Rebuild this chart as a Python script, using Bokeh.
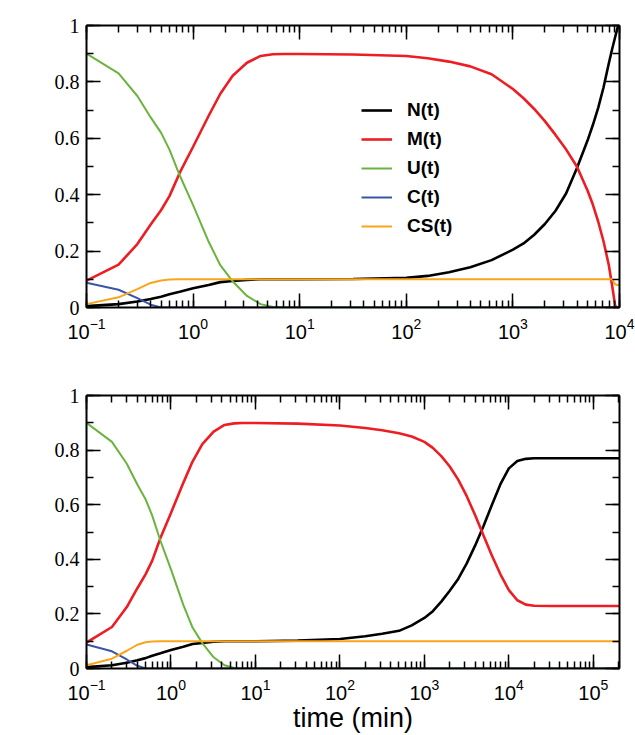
from bokeh.plotting import figure
from bokeh.layouts import column
from bokeh.models import (Range1d, LogAxis, LinearAxis, LogTicker, SingleIntervalTicker,
                          NumeralTickFormatter, Label, Legend, LegendItem)
from bokeh.embed import file_html
from bokeh.resources import INLINE

# ---------------- data ----------------
# shared early-time part (both panels)
t_early = [0.1, 0.2, 0.3, 0.4, 0.5, 0.6, 0.75, 1.0, 1.4, 1.8, 2.35, 3.2, 4.3, 5.6, 7.0]
N_early = [0.005, 0.012, 0.021, 0.030, 0.038, 0.047, 0.056, 0.068, 0.080, 0.090, 0.094, 0.098, 0.100, 0.100, 0.100]
M_early = [0.095, 0.152, 0.225, 0.294, 0.345, 0.395, 0.478, 0.570, 0.680, 0.758, 0.822, 0.868, 0.892, 0.898, 0.899]
U_early = [0.900, 0.830, 0.750, 0.674, 0.620, 0.560, 0.468, 0.363, 0.233, 0.150, 0.093, 0.041, 0.012, 0.002, 0.0]
C_early = [0.088, 0.063, 0.033, 0.010, 0.0, 0.0, 0.0, 0.0, 0.0, 0.0, 0.0, 0.0, 0.0, 0.0, 0.0]
CS_early = [0.012, 0.036, 0.065, 0.087, 0.096, 0.099, 0.100, 0.100, 0.100, 0.100, 0.100, 0.100, 0.100, 0.100, 0.100]

# panel (a) late part
t_late_a = [10, 31.62, 100, 158.5, 251.2, 398.1, 631.0, 1000, 1259, 1585, 1995, 2512, 3162, 3981,
            5012, 5623, 6310, 7079, 7943, 8511, 9120, 9550, 10000]
N_late_a = [0.100, 0.101, 0.105, 0.112, 0.125, 0.143, 0.168, 0.205, 0.227, 0.258, 0.296, 0.343, 0.405, 0.494,
            0.592, 0.647, 0.708, 0.780, 0.866, 0.915, 0.960, 0.990, 1.015]
M_late_a = [0.899, 0.897, 0.892, 0.884, 0.872, 0.855, 0.827, 0.775, 0.742, 0.704, 0.661, 0.612, 0.560, 0.500,
            0.415, 0.365, 0.305, 0.235, 0.150, 0.080, 0.005, 0.0, 0.0]
U_late_a = [0.0, 0.0, 0.0, 0.0, 0.0, 0.0, 0.0, 0.0, 0.0, 0.0, 0.0, 0.0, 0.0, 0.0,
            0.0, 0.0, 0.0, 0.0, 0.0, 0.0, 0.0, 0.0, 0.0]
C_late_a = [0.0, 0.0, 0.0, 0.0, 0.0, 0.0, 0.0, 0.0, 0.0, 0.0, 0.0, 0.0, 0.0, 0.0,
            0.0, 0.0, 0.0, 0.0, 0.0, 0.0, 0.0, 0.0, 0.0]
CS_late_a = [0.100, 0.100, 0.100, 0.100, 0.100, 0.100, 0.100, 0.100, 0.100, 0.100, 0.100, 0.100, 0.100, 0.100,
             0.100, 0.100, 0.100, 0.100, 0.100, 0.100, 0.082, 0.080, 0.080]

# panel (b) late part
t_late_b = [10, 31.62, 100, 199.5, 316.2, 501.2, 707.9, 1000, 1259, 1585, 1995, 2512, 3162, 3981,
            5012, 6310, 7943, 10000, 12589, 15849, 19953, 31623, 204000]
N_late_b = [0.100, 0.102, 0.108, 0.118, 0.127, 0.138, 0.158, 0.185, 0.210, 0.245, 0.285, 0.328, 0.384, 0.450,
            0.522, 0.600, 0.675, 0.733, 0.760, 0.768, 0.770, 0.770, 0.770]
M_late_b = [0.899, 0.897, 0.890, 0.881, 0.873, 0.862, 0.850, 0.830, 0.808, 0.778, 0.740, 0.692, 0.632, 0.562,
            0.487, 0.413, 0.345, 0.287, 0.250, 0.234, 0.230, 0.229, 0.229]
U_late_b = [0.0, 0.0, 0.0, 0.0, 0.0, 0.0, 0.0, 0.0, 0.0, 0.0, 0.0, 0.0, 0.0, 0.0,
            0.0, 0.0, 0.0, 0.0, 0.0, 0.0, 0.0, 0.0, 0.0]
C_late_b = [0.0, 0.0, 0.0, 0.0, 0.0, 0.0, 0.0, 0.0, 0.0, 0.0, 0.0, 0.0, 0.0, 0.0,
            0.0, 0.0, 0.0, 0.0, 0.0, 0.0, 0.0, 0.0, 0.0]
CS_late_b = [0.100, 0.100, 0.100, 0.100, 0.100, 0.100, 0.100, 0.100, 0.100, 0.100, 0.100, 0.100, 0.100, 0.100,
             0.100, 0.100, 0.100, 0.100, 0.100, 0.100, 0.100, 0.100, 0.100]

series_names = ["N(t)", "M(t)", "U(t)", "C(t)", "CS(t)"]
series_colors = ["#000000", "#ee1d23", "#6ab43e", "#3b55a5", "#f9a51b"]
series_widths = [2.6, 2.6, 2.0, 2.0, 2.0]
x_title = "time (min)"

panel_a = {
    "t": t_early + t_late_a,
    "y": [N_early + N_late_a, M_early + M_late_a, U_early + U_late_a,
          C_early + C_late_a, CS_early + CS_late_a],
}
panel_b = {
    "t": t_early + t_late_b,
    "y": [N_early + N_late_b, M_early + M_late_b, U_early + U_late_b,
          C_early + C_late_b, CS_early + CS_late_b],
}


def style_axis(ax, labels=True):
    ax.axis_line_width = 2
    ax.axis_line_color = "black"
    ax.major_tick_in = 14
    ax.major_tick_out = 0
    ax.minor_tick_in = 7
    ax.minor_tick_out = 0
    ax.major_tick_line_width = 1.5
    ax.minor_tick_line_width = 1.5
    ax.major_tick_line_color = "black"
    ax.minor_tick_line_color = "black"
    if not labels:
        ax.major_label_text_font_size = "1px"
        ax.major_label_text_color = None
        ax.major_label_standoff = 0


def make_panel(data, xmax, frame_h, top, bottom, tag, tag_y, xlabel=None, legend=False):
    p = figure(x_axis_type="log", x_range=Range1d(0.1, xmax), y_range=Range1d(0, 1),
               frame_width=533, frame_height=frame_h,
               min_border_left=86, min_border_right=16,
               min_border_top=top, min_border_bottom=bottom,
               output_backend="svg", toolbar_location=None)
    p.grid.visible = False
    p.outline_line_color = None
    p.background_fill_color = "white"

    xt = LogTicker(num_minor_ticks=10, desired_num_ticks=8)
    yt = SingleIntervalTicker(interval=0.2, num_minor_ticks=2)

    xa = p.xaxis[0]
    xa.ticker = xt
    style_axis(xa)
    xa.major_label_text_font = "Liberation Sans"
    xa.major_label_text_font_size = "20px"
    xa.major_label_text_color = "black"
    xa.major_label_standoff = 10
    if xlabel:
        xa.axis_label = xlabel
        xa.axis_label_text_font = "Liberation Sans"
        xa.axis_label_text_font_style = "normal"
        xa.axis_label_text_font_size = "27px"
        xa.axis_label_text_color = "black"
        xa.axis_label_standoff = 0

    ya = p.yaxis[0]
    ya.ticker = yt
    ya.formatter = NumeralTickFormatter(format="0.[0]")
    style_axis(ya)
    ya.major_label_text_font = "Liberation Serif"
    ya.major_label_text_font_size = "20px"
    ya.major_label_text_color = "black"
    ya.major_label_standoff = 7

    top_ax = LogAxis(ticker=xt)
    style_axis(top_ax, labels=False)
    p.add_layout(top_ax, "above")
    right_ax = LinearAxis(ticker=yt)
    style_axis(right_ax, labels=False)
    p.add_layout(right_ax, "right")

    renderers = []
    for name, col, w, ys in zip(series_names, series_colors, series_widths, data["y"]):
        r = p.line(data["t"], ys, line_color=col, line_width=w)
        renderers.append(r)

    if legend:
        items = [LegendItem(label=n, renderers=[r]) for n, r in zip(series_names, renderers)]
        lg = Legend(items=items, location=(275, 70),
                    label_text_font="Liberation Sans", label_text_font_style="bold",
                    label_text_font_size="19px", label_text_color="black",
                    glyph_width=31, glyph_height=20, label_height=20,
                    label_standoff=15, spacing=7, padding=0, margin=0,
                    border_line_color=None, background_fill_alpha=0)
        p.add_layout(lg)

    p.add_layout(Label(x=-73, y=tag_y, x_units="screen", y_units="screen", text=tag,
                       text_font="Liberation Sans", text_font_size="19px",
                       text_color="black", text_baseline="alphabetic"))
    return p


pa = make_panel(panel_a, 10000, 282, 25, 40, "(a)", 277, legend=True)
pb = make_panel(panel_b, 204000, 273, 48, 64, "(b)", 268, xlabel=x_title)

layout = column(pa, pb, spacing=0)
open("out.html", "w").write(file_html(layout, INLINE))
